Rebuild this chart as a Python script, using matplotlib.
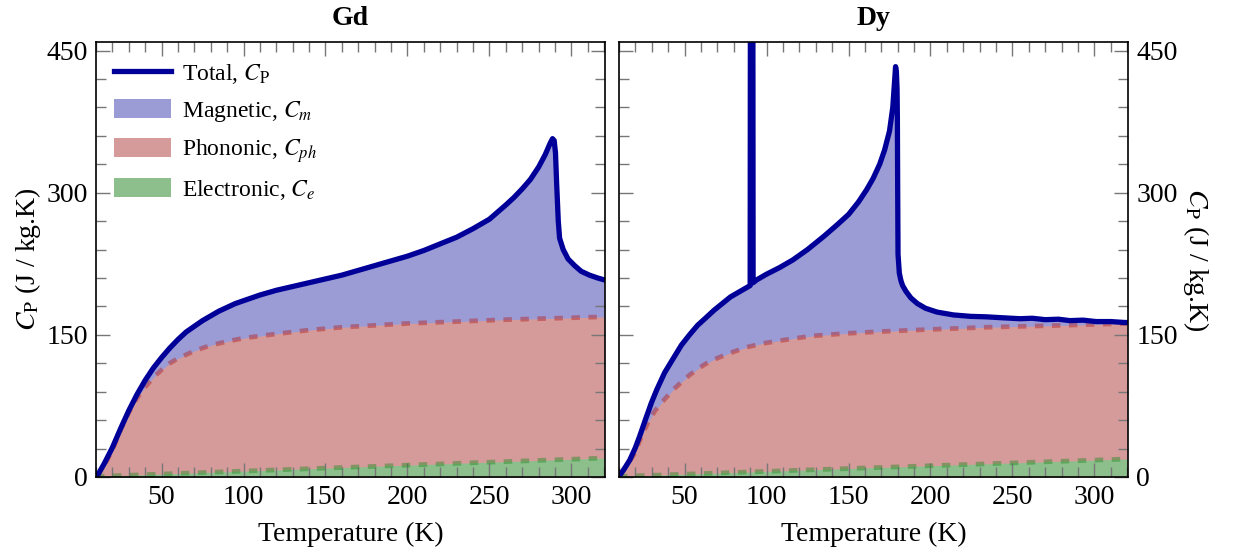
import numpy as np
import matplotlib
matplotlib.use("Agg")
import matplotlib.pyplot as plt
from matplotlib.lines import Line2D
from matplotlib.patches import Patch
from matplotlib.ticker import MultipleLocator

plt.rcParams['font.family'] = ['Liberation Serif', 'DejaVu Serif']
plt.rcParams['mathtext.fontset'] = 'stix'

# --- Gd data ---
gd_T_total = [10.4, 15, 20, 25, 30, 35, 40, 45, 50, 55, 60, 65, 70, 75, 80, 85, 90, 95, 100,
              110, 120, 130, 140, 150, 160, 170, 180, 190, 200, 210, 220, 230, 240, 250,
              260, 265, 270, 275, 280, 284, 287, 288.5, 289.5, 290.3, 291, 292, 292.8,
              295, 298, 302, 306, 311, 316, 320]
gd_C_total = [0, 14, 31, 51, 70, 87, 102, 115, 126, 136, 145, 153, 159, 165, 170, 175, 179, 183, 186,
              192, 197, 201, 205, 209, 213, 218, 223, 228, 233, 239, 246, 253, 262, 272,
              287, 295, 304, 314, 327, 340, 352, 357, 355, 342, 310, 270, 252,
              240, 230, 223, 217, 213, 210, 208]
gd_T_phon = [10.4, 15, 20, 25, 30, 35, 40, 45, 50, 55, 60, 70, 80, 90, 100, 120, 140, 160,
             180, 200, 230, 260, 290, 320]
gd_C_phon = [0, 12, 28, 50, 68, 83, 95, 105, 113, 120, 125, 133, 139, 143, 146.5, 151, 155, 158,
             160, 162, 164, 166, 167.5, 169]
gd_T_elec = [10, 320]
gd_C_elec = [0.6, 20]

# --- Dy data ---
dy_T_total = [10.6, 13, 16.6, 20, 22.6, 26, 29.7, 33, 37.8, 42, 48, 53, 57.9, 63, 68, 73, 78, 84,
              90.0, 90.2, 91.6, 91.8, 94, 100, 108, 116, 125, 135, 143, 150, 156, 161, 165,
              169, 172, 175, 177, 178.2, 178.7, 179.2, 179.6, 179.8, 180.0, 180.2, 181, 182,
              183, 185, 188, 192, 197, 204, 214, 224.4, 234, 244, 254.7, 262, 270, 278, 285,
              293, 301, 310, 318.5, 320]
dy_C_total = [2, 8, 18, 31, 43, 60, 78, 92, 110, 122, 139, 150, 160, 168, 176, 183, 190, 196,
              202, 620, 620, 205, 208, 214, 221, 229, 240, 254, 266, 277, 290, 303, 315,
              330, 345, 365, 390, 420, 433, 428, 410, 380, 300, 235, 215, 207,
              202, 196, 189, 183, 178, 174, 171, 169.5, 169, 168, 167, 167.5, 166, 166.5, 165,
              165.5, 164, 164, 163, 163]
dy_T_phon = [10.6, 15, 19.6, 23, 27.5, 32, 37.8, 43, 48, 53, 58, 63, 68, 78, 88, 98, 108.6,
             118, 128.8, 149, 170, 190, 234, 280, 320]
dy_C_phon = [3, 13, 25, 40, 57, 70, 82, 92, 100, 107.5, 114, 119.5, 124, 131, 137, 141, 144,
             146.5, 149, 151.5, 153.5, 155, 158, 160, 162]
dy_T_elec = [10, 320]
dy_C_elec = [0.6, 19]

panels = [
    ("Gd", gd_T_total, gd_C_total, gd_T_phon, gd_C_phon, gd_T_elec, gd_C_elec),
    ("Dy", dy_T_total, dy_C_total, dy_T_phon, dy_C_phon, dy_T_elec, dy_C_elec),
]

c_total = '#000099'
c_mag = '#9b9bd5'
c_ph = '#d59a9a'
c_el = '#8cbf8c'

fig = plt.figure(figsize=(12.4, 5.59), dpi=100)
ax_pos = [[0.0774, 0.1467, 0.4105, 0.7782], [0.4992, 0.1467, 0.4105, 0.7782]]

for i, (name, Tt, Ct, Tp, Cp, Te, Ce) in enumerate(panels):
    ax = fig.add_axes(ax_pos[i])
    ax.fill_between(Tt, Ct, 0, color=c_mag, lw=0)
    ax.fill_between(Tp, Cp, 0, color=c_ph, lw=0)
    ax.fill_between(Te, Ce, 0, color=c_el, lw=0)
    ax.plot(Tp, Cp, color='#b22222', alpha=0.45, lw=3.4, ls=(0, (1.8, 1.8)), dash_capstyle='butt')
    ax.plot(Te, Ce, color='#228b22', alpha=0.45, lw=3.4, ls=(0, (1.8, 1.8)), dash_capstyle='butt')
    ax.plot(Tt, Ct, color=c_total, lw=3.8, solid_joinstyle='round')

    ax.set_xlim(10, 320.5)
    ax.set_ylim(0, 459)
    ax.set_title(name, fontsize=20, fontweight='bold', pad=12)
    ax.set_xlabel('Temperature (K)', fontsize=20, labelpad=8)
    ax.xaxis.set_major_locator(MultipleLocator(50))
    ax.xaxis.set_minor_locator(MultipleLocator(10))
    ax.yaxis.set_major_locator(MultipleLocator(150))
    ax.yaxis.set_minor_locator(MultipleLocator(30))
    ax.tick_params(which='both', direction='in', top=True, bottom=True, left=True, right=True,
                   color='#777777', labelsize=20, width=1)
    ax.tick_params(which='major', length=10, pad=6)
    ax.tick_params(which='minor', length=7)
    ax.set_xticks([50, 100, 150, 200, 250, 300])
    for s in ax.spines.values():
        s.set_linewidth(1.2)

    ylab = r'$C_\mathrm{P}$ (J / kg.K)'
    if i == 0:
        ax.set_ylabel(ylab, fontsize=20, labelpad=2)
        handles = [
            Line2D([0], [0], color=c_total, lw=3.8),
            Patch(facecolor=c_mag, edgecolor='none'),
            Patch(facecolor=c_ph, edgecolor='none'),
            Patch(facecolor=c_el, edgecolor='none'),
        ]
        labels = [r'Total, $C_\mathrm{P}$', r'Magnetic, $C_m$', r'Phononic, $C_{ph}$',
                  r'Electronic, $C_e$']
        ax.legend(handles, labels, loc='upper left', bbox_to_anchor=(0.036, 0.954),
                  frameon=False, fontsize=17, handlelength=2.4, handleheight=0.85,
                  handletextpad=0.45, labelspacing=0.55, borderpad=0, borderaxespad=0)
    else:
        ax.tick_params(labelleft=False, labelright=True)
        ax.yaxis.set_label_position('right')
        ax.set_ylabel(ylab, fontsize=20, rotation=-90, labelpad=24)

fig.savefig('out.png', dpi=100)
